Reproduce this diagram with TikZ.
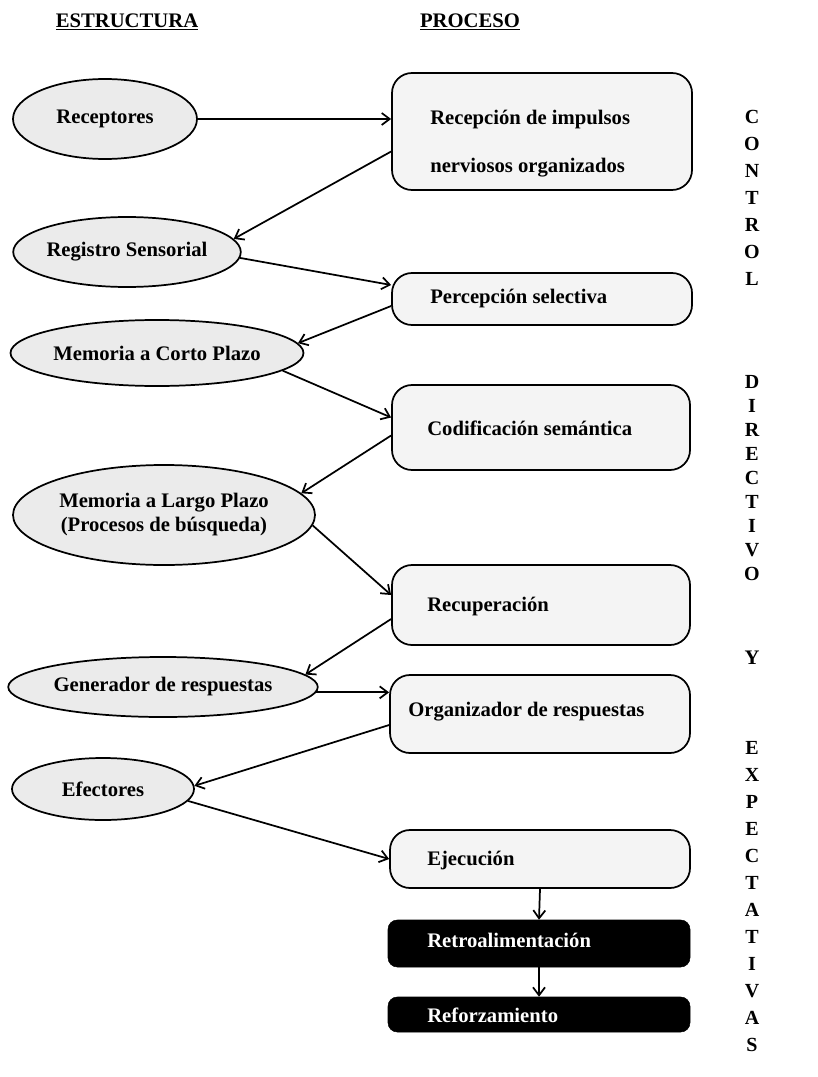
\documentclass[tikz,border=0pt]{standalone}
\usepackage{fontspec}
\setmainfont{Liberation Serif}
\usetikzlibrary{shapes.geometric,arrows.meta,fit,calc}
\begin{document}
\begin{tikzpicture}[x=0.75pt,y=-0.75pt,
  every node/.style={font=\fontsize{15.5}{18}\selectfont\bfseries},
  ell/.style={ellipse, draw, line width=1.3pt, fill=gray!16, inner sep=0},
  procbox/.style={draw, line width=1.3pt, rounded corners=15pt, fill=gray!9, inner sep=0},
  blackbox/.style={draw, fill=black, rounded corners=7pt, inner sep=0},
  lbl/.style={anchor=west, inner sep=0},
  wlbl/.style={anchor=west, inner sep=0, text=white},
  arr/.style={-{Straight Barb[length=6pt,width=9pt]}, line width=1.3pt},
  vert/.style={anchor=north, align=center, inner sep=0},
]
\useasboundingbox (0,0) rectangle (817,1077);

% headers
\node (est) at (127,22) {\underline{ESTRUCTURA}};
\node (proc) at (470,22) {\underline{PROCESO}};

% ellipses (structure)
\node[ell, minimum width=184*0.75pt, minimum height=80*0.75pt] (rec) at (105,119) {Receptores};
\node[ell, minimum width=226*0.75pt, minimum height=70*0.75pt] (reg) at (127,252) {Registro Sensorial};
\node[ell, minimum width=290*0.75pt, minimum height=66*0.75pt] (mc) at (157,353) {Memoria a Corto Plazo};
\node[ell, minimum width=302*0.75pt, minimum height=100*0.75pt, align=center] (ml) at (164,515) {Memoria a Largo Plazo\\(Procesos de búsqueda)};
\node[ell, minimum width=302*0.75pt, minimum height=60*0.75pt] (gen) at (163,687) {Generador de respuestas};
\node[ell, minimum width=182*0.75pt, minimum height=62*0.75pt] (ef) at (103,789) {Efectores};

% process boxes
\node[procbox, fit={(392,73) (692,190)}] (recep) {};
\node[lbl] (recept1) at (430,120) {Recepción de impulsos};
\node[lbl] (recept2) at (430,168) {nerviosos organizados};

\node[procbox, fit={(392,273) (692,325)}] (perc) {};
\node[lbl] (perct) at (430,299) {Percepción selectiva};

\node[procbox, fit={(392,385) (690,470)}] (cod) {};
\node[lbl] (codt) at (427,428) {Codificación semántica};

\node[procbox, fit={(392,565) (690,645)}] (recu) {};
\node[lbl] (recut) at (427,607) {Recuperación};

\node[procbox, fit={(390,675) (690,753)}] (org) {};
\node[lbl] (orgt) at (408,712) {Organizador de respuestas};

\node[procbox, fit={(390,830) (690,888)}] (eje) {};
\node[lbl] (ejet) at (427,861) {Ejecución};

\node[blackbox, fit={(388,920) (690,967)}] (retro) {};
\node[wlbl] (retrot) at (427,940) {Retroalimentación};

\node[blackbox, fit={(388,997) (690,1032)}] (refor) {};
\node[wlbl] (refort) at (427,1015) {Reforzamiento};

% connectors
\draw[arr] (rec.east) -- (rec.east -| recep.west);
\draw[arr] ($(recep.west)+(0,20)$) -- (reg.7);
\draw[arr] (reg.-3) -- ($(perc.west)+(0,-14)$);
\draw[arr] ($(perc.west)+(0,7)$) -- (mc.4);
\draw[arr] (mc.-8) -- ($(cod.west)+(0,-10)$);
\draw[arr] ($(cod.west)+(0,8)$) -- (ml.9);
\draw[arr] (ml.-4) -- ($(recu.west)+(0,-10)$);
\draw[arr] ($(recu.west)+(0,14)$) -- (gen.5);
\draw[arr] (gen.-2) -- (gen.-2 -| org.west);
\draw[arr] ($(org.west)+(0,11)$) -- (ef.2);
\draw[arr] (ef.-8) -- (eje.west);
\draw[arr] (eje.south) -- (retro.north);
\draw[arr] (retro.south) -- (refor.north);

% right column
\node[vert, font=\fontsize{15}{20.25}\selectfont\bfseries] (control) at (752,110) {C\\O\\N\\T\\R\\O\\L};
\node[vert, font=\fontsize{15}{18}\selectfont\bfseries] (directivo) at (752,375) {D\\I\\R\\E\\C\\T\\I\\V\\O};
\node (y) at (752,658) {Y};
\node[vert, font=\fontsize{15}{20.25}\selectfont\bfseries] (expect) at (752,741) {E\\X\\P\\E\\C\\T\\A\\T\\I\\V\\A\\S};
\end{tikzpicture}
\end{document}
